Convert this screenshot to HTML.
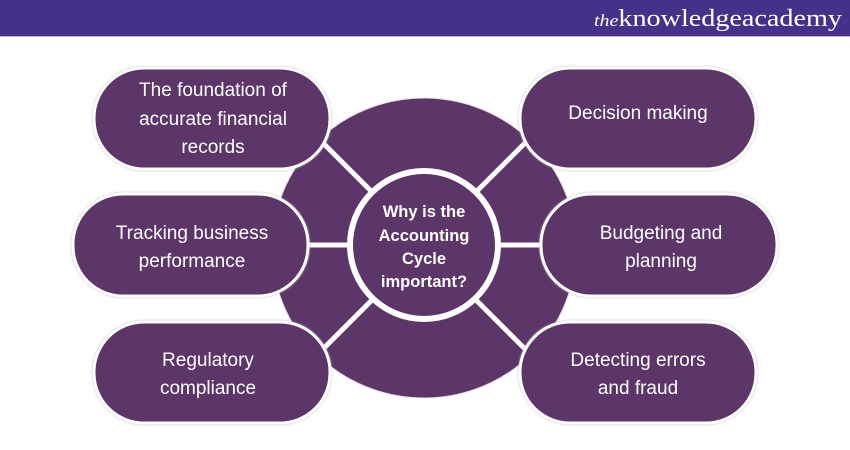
<!DOCTYPE html>
<html><head><meta charset="utf-8"><style>
html,body{margin:0;padding:0;background:#fff;}
svg{display:block;}
</style></head><body>
<svg width="850" height="450" xmlns="http://www.w3.org/2000/svg" font-family="'Liberation Sans', sans-serif">
<rect x="0" y="0" width="850" height="36" fill="#46318a"/>
<rect x="0" y="36" width="850" height="1" fill="#b9b2d0"/>
<text x="842" y="26" text-anchor="end" fill="#fff" font-family="'Liberation Serif', serif" font-size="24" textLength="248" lengthAdjust="spacingAndGlyphs"><tspan font-style="italic" font-size="17">the</tspan>knowledge<tspan>academy</tspan></text>

<ellipse cx="424" cy="248" rx="152" ry="150" fill="#5c3569" stroke="#e4dde8" stroke-width="1"/>
<g stroke="#fff" stroke-width="5">
<line x1="300" y1="120" x2="380" y2="200"/>
<line x1="548" y1="120" x2="468" y2="200"/>
<line x1="300" y1="372" x2="380" y2="292"/>
<line x1="548" y1="372" x2="468" y2="292"/>
<line x1="300" y1="245" x2="360" y2="245"/>
<line x1="490" y1="245" x2="550" y2="245"/>
</g>
<circle cx="424" cy="245" r="74" fill="#5c3569" stroke="#fff" stroke-width="6"/>
<g fill="#fff" font-weight="bold" font-size="16.5" text-anchor="middle">
<text x="424" y="217">Why is the</text>
<text x="424" y="241">Accounting</text>
<text x="424" y="264">Cycle</text>
<text x="424" y="287">important?</text>
</g>

<g fill="#5c3569" stroke="#fff" stroke-width="3">
<rect x="94" y="68" width="236" height="101" rx="50" style="filter:drop-shadow(0 0 1px #bbb)"/>
<rect x="520" y="68" width="236" height="101" rx="50" style="filter:drop-shadow(0 0 1px #bbb)"/>
<rect x="73" y="194" width="235" height="102" rx="50" style="filter:drop-shadow(0 0 1px #bbb)"/>
<rect x="541" y="194" width="236" height="102" rx="50" style="filter:drop-shadow(0 0 1px #bbb)"/>
<rect x="94" y="322" width="236" height="101" rx="50" style="filter:drop-shadow(0 0 1px #bbb)"/>
<rect x="520" y="322" width="236" height="101" rx="50" style="filter:drop-shadow(0 0 1px #bbb)"/>
</g>
<g fill="#fff" font-size="19" text-anchor="middle">
<text x="213" y="96">The foundation of</text>
<text x="213" y="125">accurate financial</text>
<text x="213" y="153">records</text>
<text x="638" y="119">Decision making</text>
<text x="192" y="239">Tracking business</text>
<text x="192" y="267">performance</text>
<text x="661" y="239">Budgeting and</text>
<text x="661" y="267">planning</text>
<text x="208" y="366">Regulatory</text>
<text x="208" y="394">compliance</text>
<text x="638" y="366">Detecting errors</text>
<text x="638" y="394">and fraud</text>
</g>
</svg>
</body></html>
